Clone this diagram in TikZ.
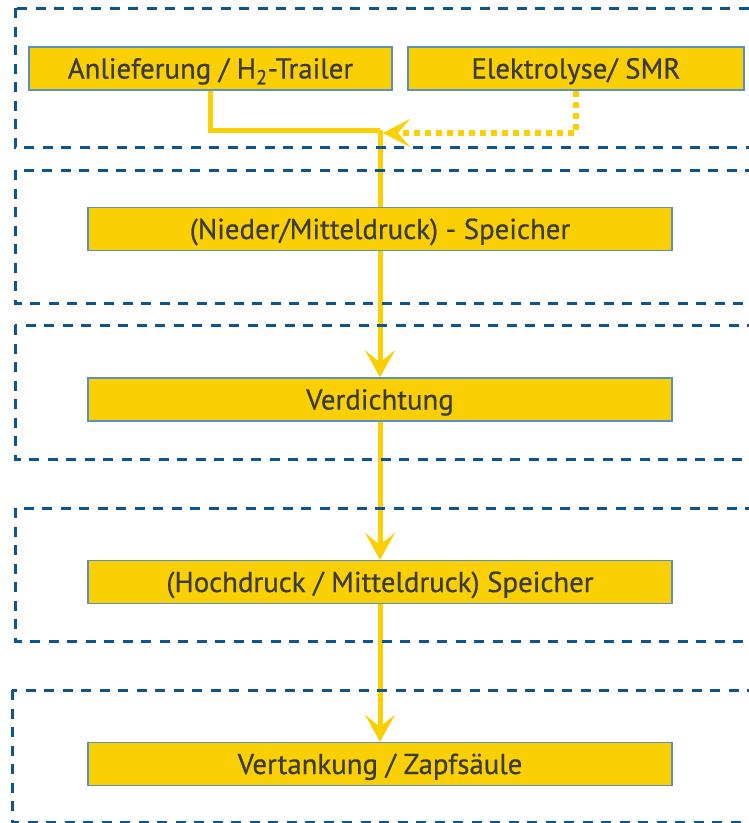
\documentclass[tikz,border=0pt]{standalone}
\usepackage{fontspec}
\setmainfont{PT Sans}[FakeBold=0.6]
\usetikzlibrary{arrows.meta,backgrounds}
\definecolor{boxyellow}{RGB}{250,208,5}
\definecolor{boxedge}{RGB}{90,145,195}
\definecolor{txtgray}{RGB}{60,60,62}
\definecolor{grpblue}{RGB}{12,85,145}
\tikzset{
  flowbox/.style={draw=boxedge, line width=1.4pt, fill=boxyellow, inner sep=0pt,
    text=txtgray, font=\fontsize{28.8}{32}\selectfont, minimum height=43pt,
    text height=20pt, text depth=0pt},
  grp/.style={draw=grpblue, line width=3pt, dash pattern=on 10pt off 8.5pt},
  flow/.style={draw=boxyellow, line width=5pt},
  flowarrow/.style={flow, -{Stealth[length=27pt,width=30pt,inset=12pt]}},
  dotflow/.style={draw=boxyellow, line width=5.5pt, dash pattern=on 6pt off 5pt,
    -{Stealth[length=27pt,width=28pt,inset=12pt]}}
}
\begin{document}
\begin{tikzpicture}[x=1pt,y=-1pt]
\useasboundingbox (0,0) rectangle (749,823);
% groups
\draw[grp] (15,8) rectangle (770,147);
\draw[grp] (15,170) rectangle (770,303);
\draw[grp] (15,325) rectangle (770,459);
\draw[grp] (15,508) rectangle (770,641);
\draw[grp] (12,690) rectangle (770,822.5);
% boxes
\node[flowbox, minimum width=363pt] (A) at (210.5,68.5) {Anlieferung / H\textsubscript{2}-Trailer};
\node[flowbox, minimum width=336pt] (B) at (576,68.5) {Elektrolyse/ SMR};
\node[flowbox, minimum width=584pt] (C) at (380,229) {(Nieder/Mitteldruck) - Speicher};
\node[flowbox, minimum width=584pt] (D) at (380,399.5) {Verdichtung};
\node[flowbox, minimum width=584pt] (E) at (380,582) {(Hochdruck / Mitteldruck) Speicher};
\node[flowbox, minimum width=584pt] (F) at (380,764) {Vertankung / Zapfsäule};
\coordinate (j) at (380,130);
\coordinate (jd) at (383,133);
\begin{scope}[on background layer]
\draw[flow] (A.south) |- (j);
\draw[flowarrow] (j) -- (D.north);
\draw[dotflow] (B.south) |- (jd);
\draw[flowarrow] (D.south) -- (E.north);
\draw[flowarrow] (E.south) -- (F.north);
\end{scope}
\end{tikzpicture}
\end{document}
